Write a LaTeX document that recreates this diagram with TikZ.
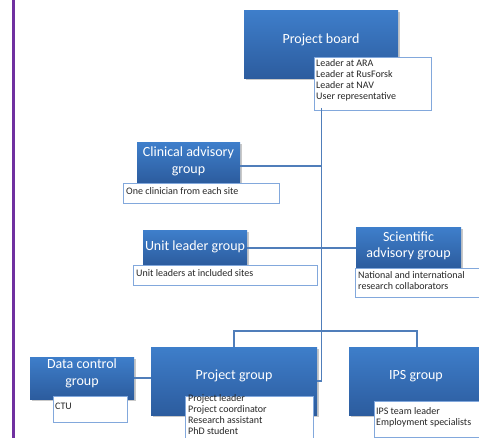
\documentclass[tikz,border=0pt]{standalone}
\usepackage{fontspec}
\setmainfont{Carlito}
\usetikzlibrary{shadows,calc}
\definecolor{boxtop}{RGB}{62,126,202}
\definecolor{boxbot}{RGB}{44,92,158}
\definecolor{subedge}{RGB}{130,168,220}
\definecolor{linkc}{RGB}{80,126,186}
\definecolor{purp}{RGB}{112,48,160}
\tikzset{
  mainbox/.style={inner sep=0pt, top color=boxtop, bottom color=boxbot, draw=none,
    drop shadow={shadow xshift=1.5pt, shadow yshift=-1.5pt, opacity=0.35, fill=black!60}},
  maintext/.style={text=white, font=\fontsize{14}{16.5}\selectfont, align=center, inner sep=0pt},
  subbox/.style={draw=subedge, line width=0.9pt, fill=white, anchor=north west, inner sep=0pt},
  subtext/.style={anchor=north west, font=\fontsize{10}{11}\selectfont, align=left, inner sep=0pt, text=black!85},
  link/.style={draw=linkc, line width=1.1pt}
}
\begin{document}
\begin{tikzpicture}[x=1pt,y=-1pt]
\useasboundingbox (0,0) rectangle (479,438);
\clip (0,0) rectangle (479,438);
\fill[white] (0,0) rectangle (479,438);
\draw[purp, line width=3pt] (13.5,-2) -- (13.5,440);

\coordinate (bt) at (321.5,108);
\coordinate (bar) at (0,331);

% Project board
\node[mainbox, minimum width=154, minimum height=68] (pb) at (321,45) {};
\node[maintext] (pbt) at (321,40) {Project board};
\node[subbox, minimum width=117, minimum height=53] (pbs) at (314,57) {};
\node[subtext] (pbst) at (316,59.5) {Leader at ARA\\Leader at RusForsk\\Leader at NAV\\User representative};

% Clinical advisory group
\node[mainbox, minimum width=103, minimum height=40] (cag) at (188.5,163) {};
\node[maintext] (cagt) at (188.5,161.5) {Clinical advisory\\group};
\node[subbox, minimum width=156, minimum height=20] (cags) at (123,183) {};
\node[subtext] (cagst) at (126,187) {One clinician from each site};

% Unit leader group
\node[mainbox, minimum width=104, minimum height=34] (ulg) at (195,248) {};
\node[maintext] (ulgt) at (195,247) {Unit leader group};
\node[subbox, minimum width=184, minimum height=20] (ulgs) at (133,265) {};
\node[subtext] (ulgst) at (136,269) {Unit leaders at included sites};

% Scientific advisory group
\node[mainbox, minimum width=105, minimum height=40] (sag) at (408.5,248) {};
\node[maintext] (sagt) at (408.5,246) {Scientific\\advisory group};
\node[subbox, minimum width=130, minimum height=29] (sags) at (355,268) {};
\node[subtext] (sagst) at (358,271) {National and international\\research collaborators};

% Data control group
\node[mainbox, minimum width=104, minimum height=42] (dcg) at (82,378) {};
\node[maintext] (dcgt) at (82,373.5) {Data control\\group};
\node[subbox, minimum width=74, minimum height=26] (dcgs) at (53,396) {};
\node[subtext] (dcgst) at (55,403) {CTU};

% Project group
\node[mainbox, minimum width=166, minimum height=68] (pg) at (234,381) {};
\node[maintext] (pgt) at (234,376) {Project group};
\node[subbox, minimum width=128, minimum height=60] (pgs) at (185,396) {};
\node[subtext] (pgst) at (188,394.5) {Project leader\\Project coordinator\\Research assistant\\PhD student};

% IPS group
\node[mainbox, minimum width=136, minimum height=68] (ips) at (417,381) {};
\node[maintext] (ipst) at (416,376) {IPS group};
\node[subbox, minimum width=115, minimum height=36] (ipss) at (374,401) {};
\node[subtext] (ipsst) at (376,407.5) {IPS team leader\\Employment specialists};

% connectors
\draw[link] (bt) -- (bt |- pg.east) -- (pg.east);
\draw[link] ($(cag.east)+(0,3)$) -- ($(cag.east -| bt)+(0,3)$);
\draw[link] (ulg.east) -- (sag.west);
\draw[link] (dcg.east) -- (dcg.east -| pg.west);
\draw[link] (pg.north) -- (pg.north |- bar) -| (ips.north);
\end{tikzpicture}
\end{document}
